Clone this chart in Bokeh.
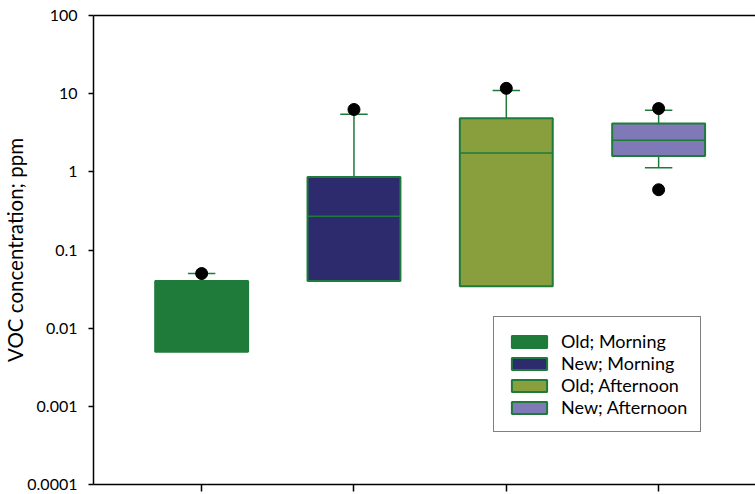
import math
from bokeh.plotting import figure
from bokeh.models import (Range1d, LinearAxis, FixedTicker, CustomJSTickFormatter,
                          Legend, LegendItem, ColumnDataSource)
from bokeh.transform import dodge
from bokeh.embed import file_html
from bokeh.resources import INLINE

# ---------------- data ----------------
categories = ["Old; Morning", "New; Morning", "Old; Afternoon", "New; Afternoon"]
positions = [1, 2, 3, 4]
q1 = [0.005, 0.04, 0.0345, 1.60]
median = [float("nan"), 0.27, 1.74, 2.53]
q3 = [0.04, 0.86, 4.86, 4.16]
upper_whisker = [0.05, 5.46, 11.0, 6.14]
lower_whisker = [float("nan"), float("nan"), float("nan"), 1.13]
outlier_x = [1, 2, 3, 4, 4]
outlier_y = [0.05, 6.27, 11.7, 6.45, 0.59]
y_ticks = [0.0001, 0.001, 0.01, 0.1, 1, 10, 100]
y_tick_labels = ["0.0001", "0.001", "0.01", "0.1", "1", "10", "100"]
fill_colors = ["#1F7B3A", "#2E2A6E", "#899E3C", "#8079B8"]
edge_color = "#1F7B3A"

FONT = "Lato"
box_w = 0.61
cap_w = 0.18

p = figure(width=755, height=494, y_axis_type="log",
           x_range=Range1d(0.29, 4.636), y_range=Range1d(1e-4, 100),
           output_backend="svg", toolbar_location=None,
           min_border_left=90, min_border_right=0, min_border_top=15, min_border_bottom=10)
p.outline_line_color = None
p.grid.visible = False
p.background_fill_color = "white"

blank = CustomJSTickFormatter(code="return '';")

# axes
xa = p.xaxis[0]
xa.ticker = FixedTicker(ticks=positions)
xa.formatter = blank
xa.major_label_text_font_size = "1px"
xa.major_label_standoff = 0
xa.major_tick_in = 0
xa.major_tick_out = 7
xa.minor_tick_line_color = None
xa.axis_line_width = 1.5
xa.major_tick_line_width = 1.5
xa.axis_line_color = "black"
xa.major_tick_line_color = "black"

ya = p.yaxis[0]
ya.ticker = FixedTicker(ticks=y_ticks)
ya.formatter = CustomJSTickFormatter(
    args=dict(tvals=y_ticks, tlabels=y_tick_labels),
    code="""
    for (let i = 0; i < tvals.length; i++) {
        if (Math.abs(Math.log10(tvals[i]) - Math.log10(tick)) < 1e-6) return tlabels[i];
    }
    return "";
    """)
ya.major_tick_in = 0
ya.major_tick_out = 5
ya.minor_tick_line_color = None
ya.axis_line_width = 1.5
ya.major_tick_line_width = 1.5
ya.axis_line_color = "black"
ya.major_tick_line_color = "black"
ya.major_label_text_font = FONT
ya.major_label_text_font_size = "16px"
ya.major_label_text_color = "black"
ya.major_label_standoff = 11
ya.axis_label = "VOC concentration; ppm"
ya.axis_label_text_font = FONT
ya.axis_label_text_font_size = "20.5px"
ya.axis_label_text_font_style = "normal"
ya.axis_label_text_color = "black"
ya.axis_label_standoff = -3

top = LinearAxis(ticker=FixedTicker(ticks=[]), formatter=blank,
                 major_label_text_font_size="1px",
                 major_tick_line_color=None, minor_tick_line_color=None,
                 axis_line_width=1.5, axis_line_color="black", major_label_standoff=0)
p.add_layout(top, "above")

src = ColumnDataSource(dict(x=positions, cat=categories, q1=q1, q3=q3, med=median,
                            up=upper_whisker, lo=lower_whisker, color=fill_colors))

# whisker stems and caps
p.segment(x0="x", y0="q3", x1="x", y1="up", source=src, line_color=edge_color, line_width=1.5)
p.segment(x0="x", y0="q1", x1="x", y1="lo", source=src, line_color=edge_color, line_width=1.5)
p.segment(x0=dodge("x", -cap_w / 2), y0="up", x1=dodge("x", cap_w / 2), y1="up",
          source=src, line_color=edge_color, line_width=1.5)
p.segment(x0=dodge("x", -cap_w / 2), y0="lo", x1=dodge("x", cap_w / 2), y1="lo",
          source=src, line_color=edge_color, line_width=1.5)

boxes = p.vbar(x="x", width=box_w, bottom="q1", top="q3", source=src,
               fill_color="color", line_color=edge_color, line_width=2)
p.segment(x0=dodge("x", -box_w / 2), y0="med", x1=dodge("x", box_w / 2), y1="med",
          source=src, line_color=edge_color, line_width=1.5)

# outliers
p.scatter(outlier_x, outlier_y, size=12, color="black")

legend = Legend(items=[LegendItem(label=c, renderers=[boxes], index=i)
                       for i, c in enumerate(categories)],
                location=(400, 52))
legend.glyph_width = 44
legend.glyph_height = 15
legend.label_height = 18
legend.spacing = -2
legend.padding = 13
legend.margin = 0
legend.label_standoff = 10
legend.label_text_font = FONT
legend.label_text_font_size = "18px"
legend.label_text_color = "black"
legend.border_line_color = "black"
legend.border_line_width = 1.5
legend.background_fill_alpha = 1
p.add_layout(legend)

open("out.html", "w").write(file_html(p, INLINE))
